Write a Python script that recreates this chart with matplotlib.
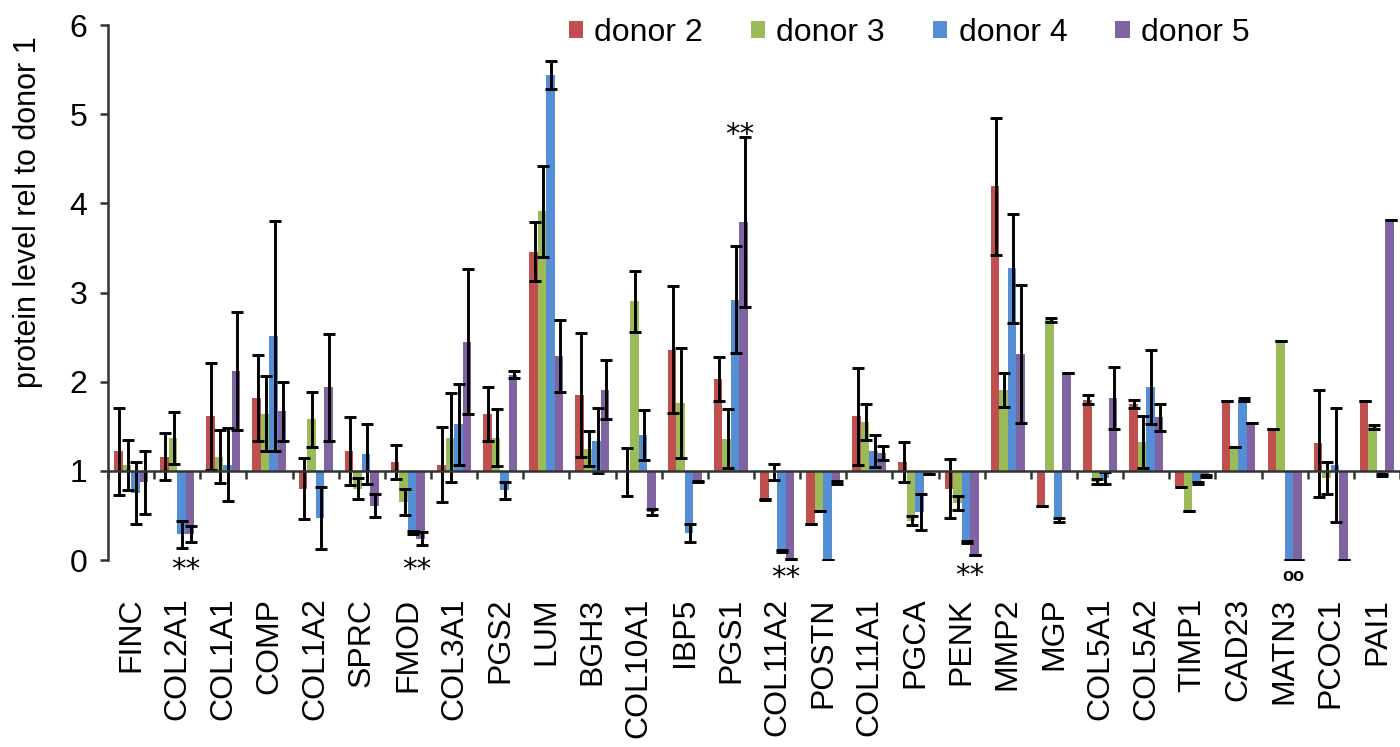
import matplotlib
matplotlib.use("Agg")
import matplotlib.pyplot as plt
import numpy as np

plt.rcParams['font.family'] = ['Liberation Sans', 'DejaVu Sans']

genes = ['FINC', 'COL2A1', 'COL1A1', 'COMP', 'COL1A2', 'SPRC', 'FMOD', 'COL3A1',
         'PGS2', 'LUM', 'BGH3', 'COL10A1', 'IBP5', 'PGS1', 'COL11A2', 'POSTN',
         'COL11A1', 'PGCA', 'PENK', 'MMP2', 'MGP', 'COL5A1', 'COL5A2', 'TIMP1',
         'CAD23', 'MATN3', 'PCOC1', 'PAI1']

donor2 = [1.22, 1.16, 1.61, 1.82, 0.80, 1.22, 1.10, 1.07, 1.64, 3.46, 1.85, 0.99, 2.36, 2.03,
          0.68, 0.40, 1.61, 1.10, 0.80, 4.19, 0.61, 1.80, 1.75, 0.82, 1.78, 1.47, 1.31, 1.78]
donor3 = [1.07, 1.37, 1.16, 1.64, 1.58, 0.80, 0.65, 1.37, 1.37, 3.91, 1.25, 2.90, 1.76, 1.36,
          0.99, 0.55, 1.55, 0.44, 0.64, 1.91, 2.69, 0.88, 1.32, 0.55, 1.27, 2.46, 0.92, 1.49]
donor4 = [0.75, 0.29, 1.07, 2.51, 0.47, 1.19, 0.31, 1.52, 0.78, 5.44, 1.34, 1.40, 0.30, 2.92,
          0.10, 0.00, 1.22, 0.54, 0.20, 3.27, 0.45, 0.92, 1.94, 0.86, 1.80, 0.00, 1.07, 0.95]
donor5 = [0.87, 0.29, 2.12, 1.67, 1.94, 0.61, 0.24, 2.45, 2.08, 2.29, 1.91, 0.54, 0.88, 3.79,
          0.01, 0.87, 1.20, 0.97, 0.06, 2.31, 2.10, 1.82, 1.60, 0.94, 1.54, 0.00, 0.00, 3.81]

err2 = [0.49, 0.26, 0.60, 0.48, 0.34, 0.38, 0.19, 0.42, 0.30, 0.33, 0.70, 0.27, 0.71, 0.25,
        0.01, 0.00, 0.54, 0.22, 0.33, 0.77, 0.00, 0.05, 0.05, 0.00, 0.00, 0.00, 0.60, 0.00]
err3 = [0.28, 0.29, 0.30, 0.42, 0.31, 0.12, 0.15, 0.50, 0.32, 0.51, 0.20, 0.34, 0.62, 0.33,
        0.09, 0.00, 0.20, 0.05, 0.08, 0.19, 0.02, 0.03, 0.29, 0.00, 0.00, 0.00, 0.18, 0.02]
err4 = [0.35, 0.15, 0.41, 1.29, 0.35, 0.34, 0.02, 0.45, 0.10, 0.16, 0.36, 0.28, 0.10, 0.60,
        0.01, 0.00, 0.18, 0.20, 0.01, 0.61, 0.02, 0.07, 0.41, 0.01, 0.02, 0.00, 0.64, 0.01]
err5 = [0.35, 0.09, 0.66, 0.33, 0.60, 0.13, 0.07, 0.81, 0.04, 0.40, 0.33, 0.03, 0.01, 0.95,
        0.00, 0.02, 0.08, 0.00, 0.00, 0.77, 0.00, 0.35, 0.15, 0.01, 0.00, 0.00, 0.00, 0.00]

series_names = ['donor 2', 'donor 3', 'donor 4', 'donor 5']
colors = ['#C0504D', '#9BBB59', '#558ED5', '#8064A2']

# significance marks: (gene, text, y position)
marks = [('COL2A1', '**', -0.11), ('FMOD', '**', -0.11), ('PGS1', '**', 4.77),
         ('COL11A2', '**', -0.20), ('PENK', '**', -0.18), ('MATN3', 'oo', -0.18)]

values = [donor2, donor3, donor4, donor5]
errors = [err2, err3, err4, err5]

fig = plt.figure(figsize=(14, 7.47), dpi=100)
ax = fig.add_axes([0.0771, 0.2503, 0.9229, 0.7162])

x = np.arange(len(genes))
w = 0.184
for k in range(4):
    v = np.array(values[k])
    xs = x + (k - 1.5) * w
    ax.bar(xs, v - 1, bottom=1, width=w, color=colors[k], label=series_names[k], zorder=2)
    ax.errorbar(xs + 0.02, v, yerr=errors[k], fmt='none', ecolor='black',
                elinewidth=2.1, capsize=4.5, capthick=2.1, zorder=3)

for g, t, yy in marks:
    i = genes.index(g)
    if t == '**':
        ax.text(i + w, yy, t, ha='center', va='center', fontsize=21,
                family='DejaVu Sans', color='black')
    else:
        ax.text(i + w, yy, t, ha='center', va='center', fontsize=13,
                fontweight='bold', color='black')

ax.set_xlim(-0.5, len(genes) - 0.5)
ax.set_ylim(0, 6)
ax.set_yticks(range(7))
ax.tick_params(axis='y', labelsize=23, length=6, width=1.8, pad=9, color='#333333')

ax.spines['top'].set_visible(False)
ax.spines['right'].set_visible(False)
ax.spines['left'].set_linewidth(1.8)
ax.spines['left'].set_color('#333333')
ax.spines['bottom'].set_position(('data', 1))
ax.spines['bottom'].set_linewidth(1.8)
ax.spines['bottom'].set_color('#333333')
ax.spines['bottom'].set_zorder(4)

ax.set_xticks(np.arange(len(genes) + 1) - 0.5)
ax.set_xticklabels([])
ax.tick_params(axis='x', length=6, width=1.8, direction='out', color='#333333')

sec = ax.secondary_xaxis(0)
sec.set_xticks(x)
sec.set_xticklabels(genes, rotation=90, fontsize=23)
sec.tick_params(axis='x', length=0, pad=27)
sec.spines['bottom'].set_visible(False)

ax.set_ylabel('protein level rel to donor 1', fontsize=22)
ax.yaxis.set_label_coords(-0.05, 0.65)

ax.legend(loc='center', bbox_to_anchor=(0.62, 0.985), ncol=4, frameon=False,
          fontsize=23, handlelength=0.45, handleheight=0.45, handletextpad=0.35,
          columnspacing=1.5, borderpad=0)

fig.savefig('out.png', dpi=100)
